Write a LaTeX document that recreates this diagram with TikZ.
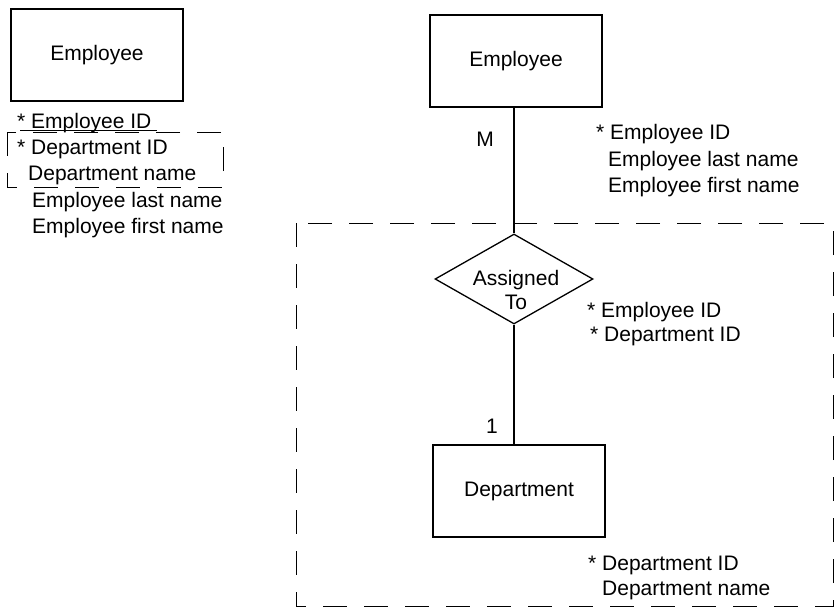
\documentclass[tikz,border=0pt]{standalone}
\usepackage{fontspec}
\setmainfont{Liberation Sans}
\usetikzlibrary{shapes.geometric}
\begin{document}
\begin{tikzpicture}[x=1pt,y=-1pt,
  font=\fontsize{21}{26}\selectfont,
  entity/.style={draw,line width=1.3pt,minimum width=172pt,minimum height=92pt,inner sep=0pt},
  relation/.style={draw,shape=diamond,line width=1.3pt,minimum width=158pt,minimum height=90pt,inner sep=0pt},
  attr/.style={anchor=base west,inner sep=0pt},
  card/.style={inner sep=0pt},
  link/.style={line width=1.3pt},
  groupbox/.style={line width=0.9pt,dash pattern=on 24pt off 17pt}]
\useasboundingbox (0,0) rectangle (835,610);

% ---- left: single Employee entity ----
\node[entity] (empA) at (97,55) {Employee};
\node[attr] (aEid)   at (17,128) {* Employee ID};
\node[attr] (aDid)   at (17,154) {* Department ID};
\node[attr] (aDname) at (28,180) {Department name};
\node[attr] (aLast)  at (32,207) {Employee last name};
\node[attr] (aFirst) at (32,233) {Employee first name};
\draw[line width=0.9pt] (20,130) -- (157,130);
\draw[groupbox] (7,132) rectangle (223,187);

% ---- right: Employee -- Assigned To -- Department ----
\node[entity] (empB) at (516,61) {Employee};
\node[relation] (assign) at (514,279) {};
\node[card] (assigntxt) at (516,292) {\begin{tabular}{@{}c@{}}Assigned\\[-2pt]To\end{tabular}};
\node[entity] (dept) at (519,491) {Department};

\draw[link] (empB.south -| assign.north) -- (assign.north);
\draw[link] (assign.south) -- (assign.south |- dept.north);

\node[card] (cardM) at (485,139) {M};
\node[card] (card1) at (492,426) {1};

\node[attr] (bEid)   at (596,139) {* Employee ID};
\node[attr] (bLast)  at (608,166) {Employee last name};
\node[attr] (bFirst) at (608,192) {Employee first name};

\node[attr] (rEid) at (587,317) {* Employee ID};
\node[attr] (rDid) at (590,341) {* Department ID};

\node[attr] (dDid)   at (588,570) {* Department ID};
\node[attr] (dDname) at (602,595) {Department name};

\draw[groupbox] (296,223) rectangle (833,606);
\end{tikzpicture}
\end{document}
